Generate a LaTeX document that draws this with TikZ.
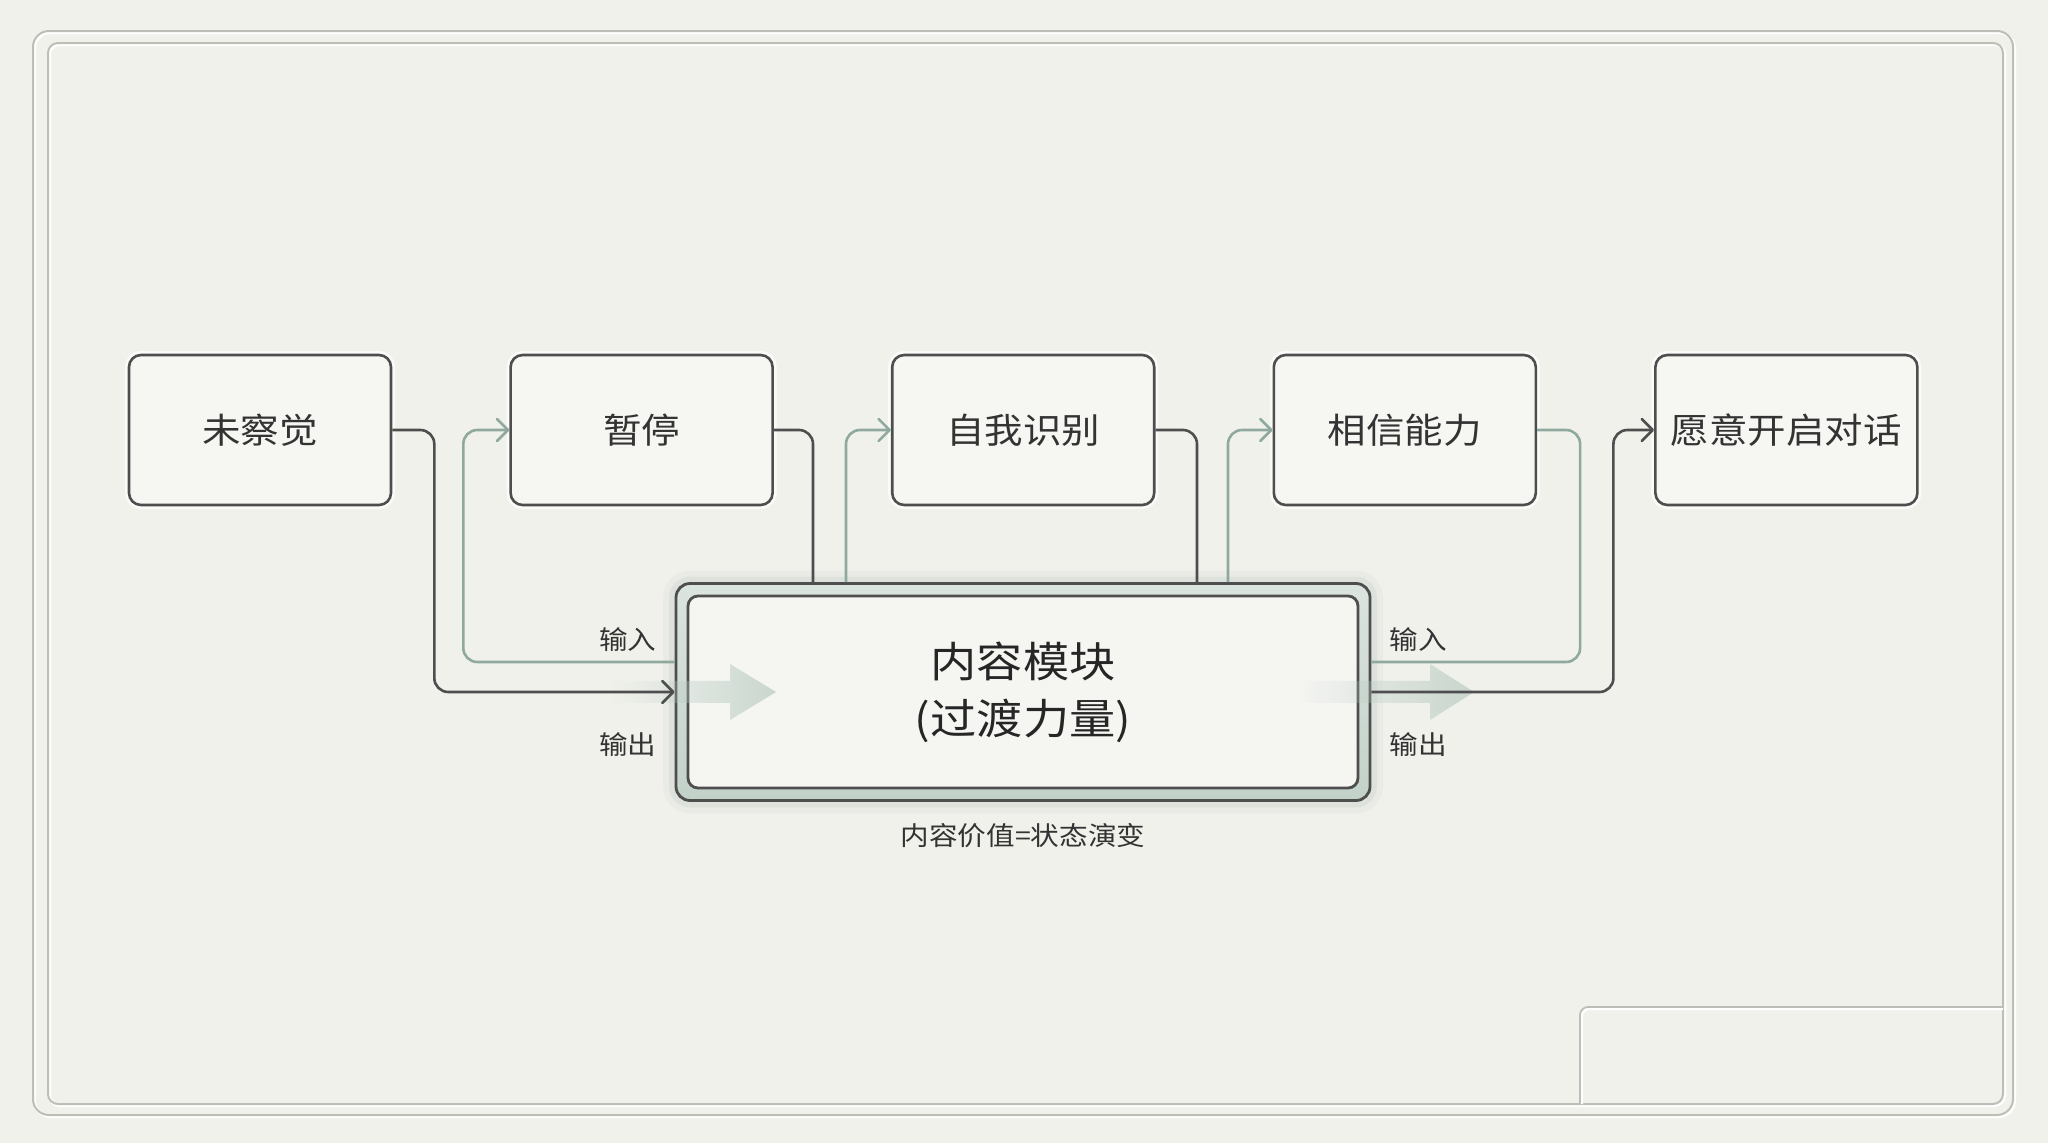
\documentclass[tikz,border=0pt]{standalone}
\usepackage{fontspec}
\setmainfont{Noto Sans CJK SC}[FakeStretch=1.1]
\usetikzlibrary{positioning,arrows.meta,fadings}
\definecolor{paper}{HTML}{F1F1EC}
\definecolor{ink}{HTML}{4E4E4E}
\definecolor{sage}{HTML}{8FA99F}
\definecolor{rim}{HTML}{C3D2C9}
\definecolor{frame}{HTML}{BEBEB6}
\tikzfading[name=fadein, left color=transparent!100, right color=transparent!0]
\tikzset{
    stage/.style={rectangle, draw=ink, line width=2.6pt, fill=white!35!paper, rounded corners=12pt, minimum width=262pt, minimum height=150pt, text=black!80, font=\fontsize{35}{40}\selectfont, preaction={draw=white, line width=8pt, opacity=.7}},
    module/.style={rectangle, draw=ink, line width=2.8pt, rounded corners=14pt, minimum width=694pt, minimum height=217pt, top color=rim!60!white, bottom color=rim, preaction={draw=sage, line width=26pt, opacity=.07}, preaction={draw=sage, line width=14pt, opacity=.12}},
    core/.style={rectangle, draw=ink, line width=2.8pt, rounded corners=10pt, minimum width=670pt, minimum height=192pt, fill=white!30!paper, text=black!85, align=center, font=\fontsize{42}{57}\selectfont},
    link/.style={draw=ink, line width=2.6pt, rounded corners=14pt},
    back/.style={draw=sage, line width=2.6pt, rounded corners=14pt},
    tip/.style={-{Straight Barb[length=11pt,width=22pt,round]}},
    tag/.style={font=\fontsize{26}{30}\selectfont, text=black!80},
    flow/.style={fill=rim!85!sage, opacity=.75, path fading=fadein},
}
\begin{document}
\begin{tikzpicture}[x=1pt, y=-1pt]
    \fill[paper] (0,0) rectangle (2048,1143);
    \useasboundingbox (0,0) rectangle (2048,1143);
    \draw[white, line width=3pt, rounded corners=16pt] (34.5,32.5) rectangle (2014.5,1116.5);
    \draw[frame, line width=2pt, rounded corners=16pt] (33,31) rectangle (2013,1115);
    \draw[white, line width=3pt, rounded corners=10pt] (49.5,44.5) rectangle (2004.5,1105.5);
    \draw[frame, line width=2pt, rounded corners=10pt] (48,43) rectangle (2003,1104);
    \draw[white, line width=3pt, rounded corners=8pt] (2003,1008.5) -| (1581.5,1104);
    \draw[frame, line width=1.8pt, rounded corners=8pt] (2003,1007) -| (1580,1104);

    \node(s1) [stage] at (260,430){未察觉};
    \node(s2) [stage, right=117pt of s1]{暂停};
    \node(s3) [stage, right=117pt of s2]{自我识别};
    \node(s4) [stage, right=117pt of s3]{相信能力};
    \node(s5) [stage, right=117pt of s4]{愿意开启对话};

    \node(mod) [module] at (1023,692){};
    \node(core) [core] at (mod){内容模块\\(过渡力量)};

    \fill[flow] (612,681) -- (730,681) -- (730,664) -- (776,692) -- (730,720) -- (730,703) -- (612,703) -- cycle;
    \fill[flow] (1298,681) -- (1430,681) -- (1430,664) -- (1474,692) -- (1430,720) -- (1430,703) -- (1298,703) -- cycle;

    \draw[link, tip] (s1.east) -- ++(42,0) |- (mod.west);
    \draw[back, tip] ([yshift=30pt]mod.west) -| ([xshift=-46pt]s2.west) -- (s2.west);
    \draw[link] (s2.east) -| ([xshift=-210pt]mod.north);
    \draw[back, tip] ([xshift=-177pt]mod.north) |- (s3.west);
    \draw[link] (s3.east) -| ([xshift=174pt]mod.north);
    \draw[back, tip] ([xshift=205pt]mod.north) |- (s4.west);
    \draw[back] (s4.east) -- ++(43,0) |- ([yshift=30pt]mod.east);
    \draw[link, tip] (mod.east) -- ++(242,0) |- (s5.west);

    \node(inL) [tag] at ([xshift=-47pt, yshift=52pt]mod.west){输入};
    \node(outL) [tag] at ([xshift=-47pt, yshift=-53pt]mod.west){输出};
    \node(inR) [tag] at ([xshift=47pt, yshift=52pt]mod.east){输入};
    \node(outR) [tag] at ([xshift=47pt, yshift=-53pt]mod.east){输出};
    \node(value) [tag] at ([yshift=-34pt]mod.south){内容价值=状态演变};
\end{tikzpicture}
\end{document}
